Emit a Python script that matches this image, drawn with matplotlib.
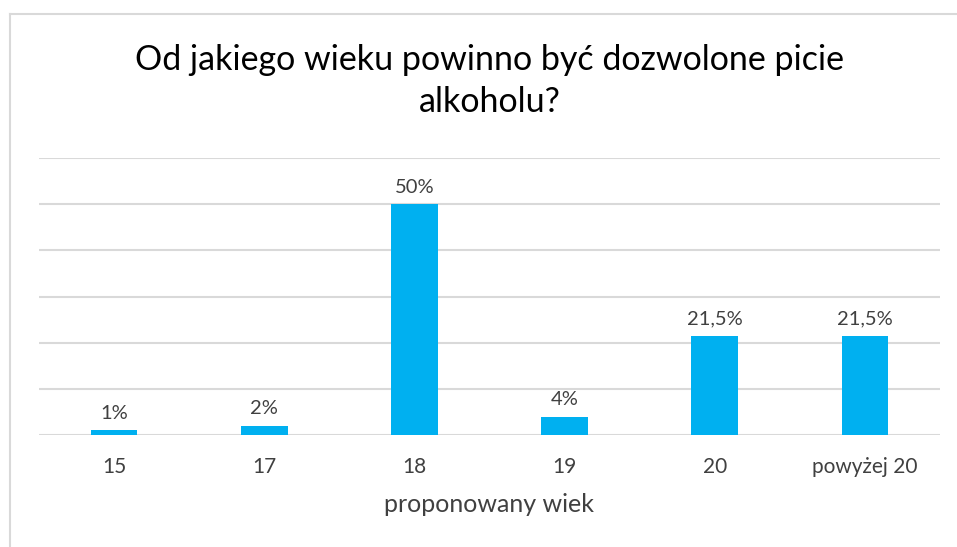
import matplotlib
matplotlib.use("Agg")
import matplotlib.pyplot as plt
from matplotlib.lines import Line2D

categories = ["15", "17", "18", "19", "20", "powyżej 20"]
values = [1, 2, 50, 4, 21.5, 21.5]
labels = ["1%", "2%", "50%", "4%", "21,5%", "21,5%"]

plt.rcParams['font.family'] = ['Lato', 'DejaVu Sans']

W, H = 957, 547
fig = plt.figure(figsize=(W/100, H/100), dpi=100)
ax = fig.add_axes([39/W, 1-435/H, (940-39)/W, (435-158)/H])

x = range(len(categories))
ax.bar(x, values, width=0.31, color="#00B0F0", zorder=3)
ax.set_xlim(-0.5, len(categories)-0.5)
ax.set_ylim(0, 60)
ax.set_yticks(range(0, 61, 10))
ax.yaxis.grid(True, color="#D9D9D9", linewidth=1.5, zorder=0)
ax.tick_params(axis='y', left=False, labelleft=False)
ax.tick_params(axis='x', bottom=False, labelsize=15, colors="#404040", pad=12)
ax.set_xticks(list(x))
ax.set_xticklabels(categories)
for s in ax.spines.values():
    s.set_visible(False)

for i, (v, l) in enumerate(zip(values, labels)):
    ax.annotate(l, (i, v), xytext=(0, 6), textcoords="offset points",
                ha="center", va="bottom", fontsize=14.5, color="#404040")

ax.set_xlabel("proponowany wiek", fontsize=18, color="#404040", labelpad=12)

fig.text(490/W, 1-81/H, "Od jakiego wieku powinno być dozwolone picie\nalkoholu?",
         ha="center", va="center", fontsize=24.5, color="#000000", linespacing=1.35)

# outer chart border (light gray)
fig.add_artist(Line2D([9.5/W, 9.5/W], [0, 1-13.5/H], transform=fig.transFigure,
                      color="#D9D9D9", linewidth=1.5))
fig.add_artist(Line2D([9.5/W, 1], [1-13.5/H, 1-13.5/H], transform=fig.transFigure,
                      color="#D9D9D9", linewidth=1.5))

fig.savefig("out.png", dpi=100)
